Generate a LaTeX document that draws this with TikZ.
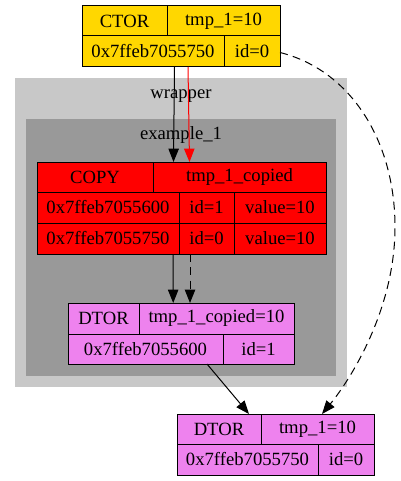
\documentclass[tikz,border=0pt]{standalone}
\usepackage{fontspec}
\setmainfont{Liberation Serif}
\usetikzlibrary{arrows.meta,calc}
\definecolor{ctorc}{HTML}{FFD700}
\definecolor{copyc}{HTML}{FF0000}
\definecolor{dtorc}{HTML}{EE82EE}
\definecolor{wrapc}{HTML}{C8C8C8}
\definecolor{exc}{HTML}{999999}
% #1 name, #2 x1, #3 y1, #4 x2, #5 y2, #6 style, #7 text
\newcommand\rcell[7]{%
  \pgfmathsetlengthmacro\rcw{(#4-#2)*0.75}%
  \pgfmathsetlengthmacro\rch{(#5-#3)*0.75}%
  \node[#6, minimum width=\rcw, minimum height=\rch] (#1) at (#2,#3) {#7};}
\begin{document}
\begin{tikzpicture}[x=0.75pt,y=-0.75pt,
  font=\fontsize{14pt}{17pt}\selectfont,
  box/.style={inner sep=0pt,outer sep=0pt,anchor=north west},
  cell/.style={box,draw=black,line width=0.75pt},
  edge/.style={line width=0.75pt,-{Triangle[length=10pt,width=7.8pt]}},
  dashededge/.style={edge,dash pattern=on 6pt off 4pt}]
\useasboundingbox (0,0) rectangle (400,481);
% clusters
\rcell{wrapper}{15}{78}{347}{387}{box,fill=wrapc}{}
\node (wrapperlabel) at (181,96) {wrapper};
\rcell{example}{26}{119}{336}{376}{box,fill=exc}{}
\node (examplelabel) at (181,135.5) {example\_1};
% CTOR
\rcell{c1}{82}{6}{167}{36}{cell,fill=ctorc}{CTOR}
\rcell{c2}{167}{6}{280}{36}{cell,fill=ctorc}{tmp\_1=10}
\rcell{c3}{82}{36}{224}{67}{cell,fill=ctorc}{0x7ffeb7055750}
\rcell{c4}{224}{36}{280}{67}{cell,fill=ctorc}{id=0}
% COPY
\rcell{p1}{37}{162}{153}{192}{cell,fill=copyc}{COPY}
\rcell{p2}{153}{162}{326}{192}{cell,fill=copyc}{tmp\_1\_copied}
\rcell{p3}{37}{192}{179}{223}{cell,fill=copyc}{0x7ffeb7055600}
\rcell{p4}{179}{192}{234}{223}{cell,fill=copyc}{id=1}
\rcell{p5}{234}{192}{326}{223}{cell,fill=copyc}{value=10}
\rcell{p6}{37}{223}{179}{254}{cell,fill=copyc}{0x7ffeb7055750}
\rcell{p7}{179}{223}{234}{254}{cell,fill=copyc}{id=0}
\rcell{p8}{234}{223}{326}{254}{cell,fill=copyc}{value=10}
% DTOR 1
\rcell{d1}{68}{303}{139}{334}{cell,fill=dtorc}{DTOR}
\rcell{d2}{139}{303}{294}{334}{cell,fill=dtorc}{tmp\_1\_copied=10}
\rcell{d3}{68}{334}{223}{364}{cell,fill=dtorc}{0x7ffeb7055600}
\rcell{d4}{223}{334}{294}{364}{cell,fill=dtorc}{id=1}
% DTOR 2
\rcell{e1}{177}{414}{261}{444}{cell,fill=dtorc}{DTOR}
\rcell{e2}{261}{414}{374}{444}{cell,fill=dtorc}{tmp\_1=10}
\rcell{e3}{177}{444}{318}{475}{cell,fill=dtorc}{0x7ffeb7055750}
\rcell{e4}{318}{444}{374}{475}{cell,fill=dtorc}{id=0}
% edges
\draw[edge] ($(c3.south)+(21.5,0)$) -- ($(p2.north)+(-66,0)$);
\draw[edge,red] ($(c3.south)+(35,0)$) -- ($(p2.north)+(-50,0)$);
\draw[edge] ($(p6.south)+(65,0)$) -- ($(d2.north)+(-43.3,0)$);
\draw[dashededge] ($(p7.south)+(-16.5,0)$) -- ($(d2.north)+(-26.5,0)$);
\draw[edge] ($(d3.south)+(61.5,0)$) -- ($(e1.north)+(30,0)$);
\draw[dashededge] ($(c4.east)+(0,1)$) .. controls (350,70) and (395,140) .. (395,227)
  .. controls (395,310) and (350,380) .. ($(e2.north)+(4.5,0)$);
\end{tikzpicture}
\end{document}
